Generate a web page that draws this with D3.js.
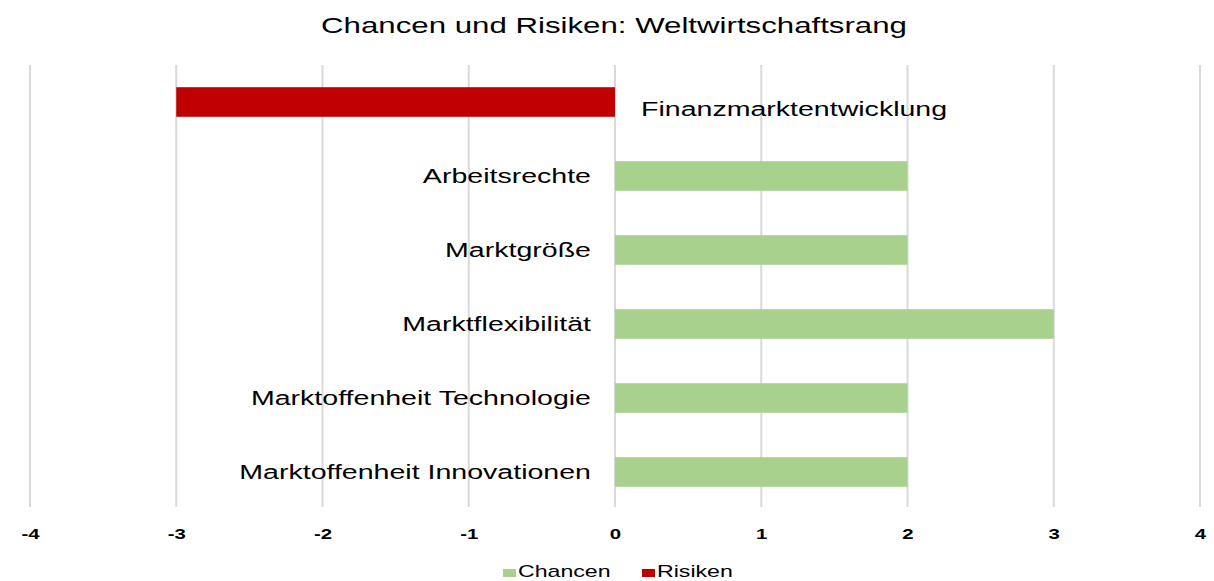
<!DOCTYPE html>
<html>
<head>
<meta charset="utf-8">
<script src="https://cdn.jsdelivr.net/npm/d3@7"></script>
<style>
    body { margin: 0; background: #fff; }
    text { font-family: "Liberation Sans", Arial, sans-serif; fill: #000; }
</style>
</head>
<body>
<div id="chart"></div>
<script>
    // chart data
    var categories = ["Finanzmarktentwicklung", "Arbeitsrechte", "Marktgröße", "Marktflexibilität",
        "Marktoffenheit Technologie", "Marktoffenheit Innovationen"];
    var values = [-3, 2, 2, 3, 2, 2];
    var tickValues = [-4, -3, -2, -1, 0, 1, 2, 3, 4];
    var seriesNames = ["Chancen", "Risiken"];
    var seriesColors = ["#a9d18e", "#c00000"];

    var width = 1214, height = 581;
    // the original picture is stretched sideways, so text is widened too
    var stretch = 1.36;

    var svg = d3.select("#chart").append("svg")
        .attr("width", width)
        .attr("height", height);

    var x = d3.scaleLinear().domain([-4, 4]).range([30, 1200]);
    var y = d3.scaleBand().domain(categories).range([65, 509]).paddingInner(0.6).paddingOuter(0.3);

    // title
    svg.append("g")
        .attr("transform", "translate(614,33) scale(1.42,1)")
        .append("text")
        .attr("text-anchor", "middle")
        .style("font-size", "22px")
        .text("Chancen und Risiken: Weltwirtschaftsrang");

    // vertical grid lines
    svg.append("g").selectAll("line")
        .data(tickValues)
        .enter().append("line")
        .attr("x1", function(d) { return x(d); })
        .attr("x2", function(d) { return x(d); })
        .attr("y1", 65).attr("y2", 507)
        .attr("stroke", "#d9d9d9")
        .attr("stroke-width", 2);

    // bars
    svg.append("g").selectAll("rect")
        .data(values)
        .enter().append("rect")
        .attr("x", function(d) { return x(Math.min(0, d)); })
        .attr("width", function(d) { return Math.abs(x(d) - x(0)); })
        .attr("y", function(d, i) { return y(categories[i]); })
        .attr("height", y.bandwidth())
        .attr("fill", function(d) { return d < 0 ? seriesColors[1] : seriesColors[0]; });

    // category labels, on the opposite side of the bar
    svg.append("g").selectAll("g")
        .data(values)
        .enter().append("g")
        .attr("transform", function(d, i) {
            var lx = d < 0 ? x(0) + 26 : x(0) - 24;
            var ly = y(categories[i]) + y.bandwidth() / 2 + (d < 0 ? 14 : 7);
            return "translate(" + lx + "," + ly + ") scale(" + stretch + ",1)";
        })
        .append("text")
        .attr("text-anchor", function(d) { return d < 0 ? "start" : "end"; })
        .style("font-size", "21px")
        .text(function(d, i) { return categories[i]; });

    // x axis tick labels
    var xAxis = d3.axisBottom(x).tickValues(tickValues).tickSize(0).tickPadding(0)
        .tickFormat(function(d) { return String(d); });
    var axisG = svg.append("g")
        .attr("transform", "translate(0,539)")
        .call(xAxis);
    axisG.select(".domain").remove();
    axisG.selectAll("text")
        .attr("y", 0)
        .attr("dy", 0)
        .attr("transform", "scale(" + stretch + ",1)")
        .style("font-size", "15px")
        .style("font-weight", "bold")
        .style("font-family", "'Liberation Sans', Arial, sans-serif")
        .style("fill", "#000");

    // legend
    var legendX = [503, 642];
    var legend = svg.append("g").selectAll("g")
        .data(seriesNames)
        .enter().append("g")
        .attr("transform", function(d, i) { return "translate(" + legendX[i] + ",567)"; });
    legend.append("rect")
        .attr("y", 2)
        .attr("width", 13).attr("height", 8)
        .attr("fill", function(d, i) { return seriesColors[i]; });
    legend.append("g")
        .attr("transform", "translate(15,10) scale(" + stretch + ",1)")
        .append("text")
        .style("font-size", "17px")
        .text(function(d) { return d; });
</script>
</body>
</html>
